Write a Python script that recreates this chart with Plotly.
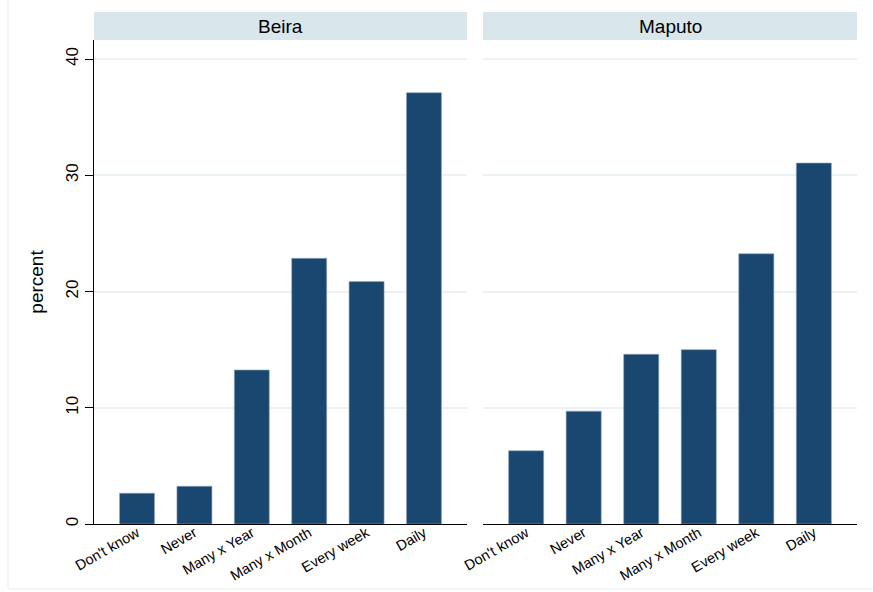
import plotly.graph_objects as go

categories = ["Don't know", "Never", "Many x Year", "Many x Month", "Every week", "Daily"]
panels = ["Beira", "Maputo"]
beira = [2.65, 3.25, 13.25, 22.85, 20.85, 37.1]
maputo = [6.3, 9.7, 14.6, 15.0, 23.25, 31.05]
yticks = [0, 10, 20, 30, 40]

W, H = 873, 592
L, R, T, B = 94, 16, 12, 68
pw, ph = W - L - R, H - T - B
axis_top_px = 40
ydom_top = (H - B - axis_top_px) / ph  # fraction
left_dom = [0, (467 - L) / pw]
right_dom = [(483 - L) / pw, 1]

bar_color = "#1a476f"
grid_color = "#eaf2f3"
strip_color = "#d9e6eb"
font = "Liberation Sans, Arial, sans-serif"

fig = go.Figure()
fig.add_trace(go.Bar(x=categories, y=beira, xaxis="x", yaxis="y",
                     marker=dict(color=bar_color, line=dict(color="#8fa8bd", width=0.6)),
                     width=0.61, showlegend=False))
fig.add_trace(go.Bar(x=categories, y=maputo, xaxis="x2", yaxis="y2",
                     marker=dict(color=bar_color, line=dict(color="#8fa8bd", width=0.6)),
                     width=0.61, showlegend=False))

yrange = [0, (H - B - axis_top_px) / ((524 - 59) / 40)]

xcommon = dict(type="category", range=[-0.75, 5.75], tickangle=-30,
               tickfont=dict(family=font, size=14.5, color="black"),
               showline=True, linecolor="black", linewidth=1, showgrid=False,
               ticks="", zeroline=False, fixedrange=True, automargin=False,
               ticklabelstandoff=-6)

fig.update_layout(
    width=W, height=H,
    margin=dict(l=L, r=R, t=T, b=B),
    paper_bgcolor="white", plot_bgcolor="white",
    xaxis=dict(domain=left_dom, anchor="y", **xcommon),
    xaxis2=dict(domain=right_dom, anchor="y2", **xcommon),
    yaxis=dict(domain=[0, ydom_top], anchor="x", range=yrange,
               tickvals=yticks, tickangle=-90,
               tickfont=dict(family=font, size=17, color="black"),
               ticks="outside", ticklen=8, tickcolor="black",
               showline=True, linecolor="black", linewidth=1,
               showgrid=True, gridcolor=grid_color, gridwidth=1.5,
               zeroline=False, automargin=False,
               title=dict(text="percent", font=dict(family=font, size=19, color="black"),
                          standoff=14)),
    yaxis2=dict(domain=[0, ydom_top], anchor="x2", range=yrange,
                tickvals=yticks, showticklabels=False, ticks="",
                showline=False, showgrid=True, gridcolor=grid_color, gridwidth=1.5,
                zeroline=False, matches="y", automargin=False),
)

shapes = []
annotations = []
for name, dom in zip(panels, [left_dom, right_dom]):
    shapes.append(dict(type="rect", xref="paper", yref="paper",
                       x0=dom[0], x1=dom[1], y0=ydom_top, y1=1.0,
                       fillcolor=strip_color, line=dict(width=0), layer="below"))
    annotations.append(dict(text=name, xref="paper", yref="paper",
                            x=(dom[0] + dom[1]) / 2, y=(ydom_top + 1) / 2,
                            xanchor="center", yanchor="middle", showarrow=False,
                            font=dict(family=font, size=19, color="black")))

# faint outer frame
fx = (8 - L) / pw
fy = (H - B - 589) / ph
shapes.append(dict(type="line", xref="paper", yref="paper", x0=fx, x1=fx, y0=fy, y1=1 + T / ph,
                   line=dict(color="#e6ecee", width=1)))
shapes.append(dict(type="line", xref="paper", yref="paper", x0=fx, x1=1 + R / pw, y0=fy, y1=fy,
                   line=dict(color="#e6ecee", width=1)))

fig.update_layout(shapes=shapes, annotations=annotations)
fig.write_html("out.html")
